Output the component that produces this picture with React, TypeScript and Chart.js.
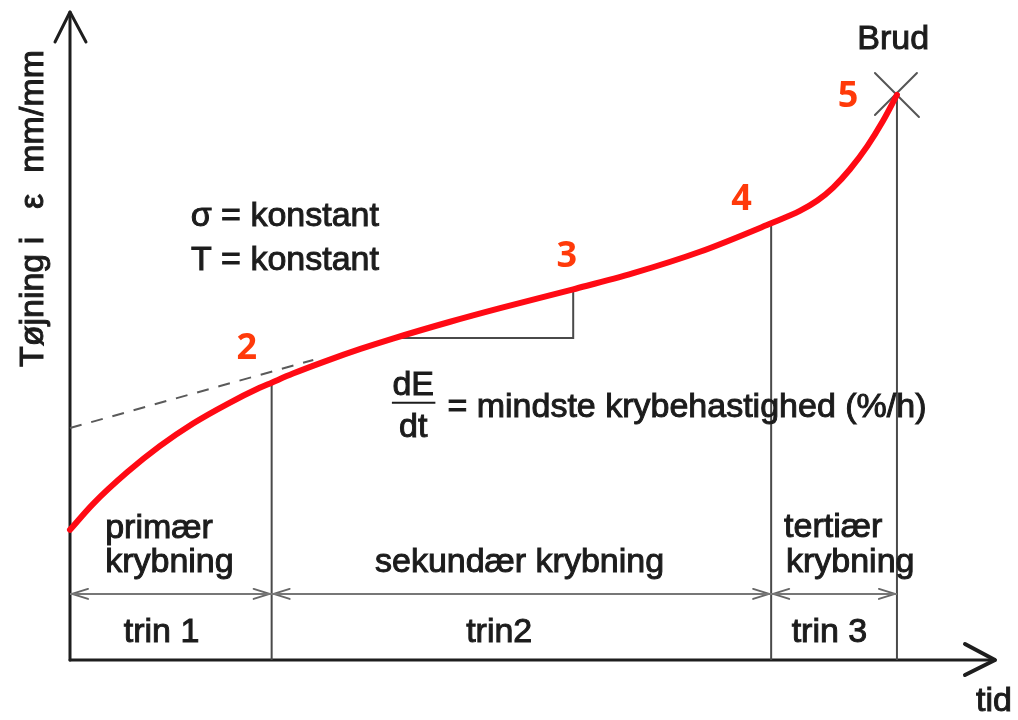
import { useEffect, useRef } from "react";
import { Chart, registerables } from "chart.js";

Chart.register(...registerables);

// Creep curve (time in arbitrary units 0-100, strain in arbitrary units 0-100)
const curveTime = [0, 2.5, 6.2, 9.7, 13.3, 17.0, 20.5, 21.8, 24.1, 27.8, 31.4, 34.9, 41.1, 46.5, 54.4, 60.9, 68.1, 75.8, 78.9, 80.8, 82.5, 84.3, 86.2, 87.9, 89.4];
const curveStrain = [20.1, 24.1, 29.0, 33.0, 36.5, 39.5, 42.0, 42.8, 44.2, 46.2, 48.0, 49.6, 52.2, 54.3, 57.2, 59.7, 63.0, 67.4, 69.3, 70.9, 72.9, 75.7, 79.3, 83.2, 87.2];

// Stage boundaries (end of trin 1, trin 2, trin 3 = rupture)
const stageTime = [21.8, 75.8, 89.4];
const stageStrain = [42.8, 67.4, 87.2];

// Extrapolated secondary (tangent) line
const tangentTime = [0, 26.3];
const tangentStrain = [35.8, 46.3];

// Slope triangle dE/dt
const triangleTime = [35.5, 54.4, 54.4];
const triangleStrain = [49.7, 49.7, 57.2];

// Dimension line with arrows between stages
const dimensionTime = [0, 21.8, 75.8, 89.4];
const dimensionLevel = 10.2;

// Axis extents
const timeMax = 100;
const strainMax = 100;

// Text labels
const stageLabels = ["trin 1", "trin2", "trin 3"];
const stageLabelTime = [9.9, 46.4, 82.1];
const pointNumbers = ["2", "3", "4", "5"];
const pointNumberTime = [19.1, 53.7, 72.6, 84.1];
const pointNumberStrain = [48.1, 62.2, 71.1, 86.9];

const TEXT_FONT = '34px "Liberation Sans", Arial, sans-serif';
const TEXT_COLOR = "#1c1c1c";
const LINE_GREY = "#4a4a4a";

function pts(xs: number[], ys: number[]) {
  return xs.map((x, i) => ({ x, y: ys[i] }));
}

export default function App() {
  const ref = useRef<HTMLCanvasElement | null>(null);

  useEffect(() => {
    if (!ref.current) return;

    const overlay = {
      id: "overlay",
      beforeDatasetsDraw(chart: any) {
        const { ctx, chartArea: a, scales } = chart;
        const X = (v: number) => scales.x.getPixelForValue(v);
        const Y = (v: number) => scales.y.getPixelForValue(v);
        ctx.save();
        ctx.lineCap = "round";
        ctx.lineJoin = "round";
        // axes
        ctx.strokeStyle = "#1e1e1e";
        ctx.lineWidth = 3;
        const x0 = X(0);
        const y0 = Y(0);
        ctx.beginPath();
        ctx.moveTo(x0, y0);
        ctx.lineTo(x0, a.top);
        ctx.stroke();
        ctx.beginPath();
        ctx.moveTo(x0 - 15, a.top + 30);
        ctx.lineTo(x0, a.top);
        ctx.lineTo(x0 + 16, a.top + 30);
        ctx.stroke();
        ctx.beginPath();
        ctx.moveTo(x0, y0);
        ctx.lineTo(a.right, y0);
        ctx.stroke();
        ctx.lineWidth = 4;
        ctx.beginPath();
        ctx.moveTo(a.right - 30, y0 - 16);
        ctx.lineTo(a.right, y0);
        ctx.lineTo(a.right - 30, y0 + 15);
        ctx.stroke();

        // dimension arrowheads
        ctx.strokeStyle = "#666";
        ctx.lineWidth = 2;
        const dy = Y(dimensionLevel);
        const head = (px: number, dir: number) => {
          ctx.beginPath();
          ctx.moveTo(px - dir * 16, dy - 5);
          ctx.lineTo(px, dy);
          ctx.lineTo(px - dir * 16, dy + 5);
          ctx.stroke();
        };
        dimensionTime.forEach((t, i) => {
          const px = X(t);
          if (i > 0) head(px - 2, 1);
          if (i < dimensionTime.length - 1) head(px + 2, -1);
        });

        // rupture cross
        const bx = X(stageTime[2]);
        const by = Y(stageStrain[2]);
        ctx.strokeStyle = "#555";
        ctx.lineWidth = 2;
        ctx.beginPath();
        ctx.moveTo(bx - 22, by - 22);
        ctx.lineTo(bx + 22, by + 22);
        ctx.moveTo(bx + 20, by - 22);
        ctx.lineTo(bx - 22, by + 20);
        ctx.stroke();
        ctx.restore();
      },
      afterDatasetsDraw(chart: any) {
        const { ctx, scales } = chart;
        const X = (v: number) => scales.x.getPixelForValue(v);
        const Y = (v: number) => scales.y.getPixelForValue(v);
        ctx.save();
        ctx.font = TEXT_FONT;
        ctx.fillStyle = TEXT_COLOR;
        ctx.strokeStyle = TEXT_COLOR;
        ctx.lineWidth = 1;
        ctx.textBaseline = "middle";
        const txt = (s: string, x: number, y: number, align: CanvasTextAlign) => {
          ctx.textAlign = align;
          ctx.fillText(s, X(x), Y(y));
          ctx.strokeText(s, X(x), Y(y));
        };
        txt("σ = konstant", 33.4, 68.4, "right");
        txt("T = konstant", 33.4, 61.7, "right");
        txt("primær", 3.8, 20.2, "left");
        txt("krybning", 3.8, 15.0, "left");
        txt("sekundær krybning", 48.6, 15.0, "center");
        txt("tertiær", 77.2, 20.4, "left");
        txt("krybning", 77.4, 15.0, "left");
        stageLabels.forEach((s, i) => txt(s, stageLabelTime[i], 4.3, "center"));
        txt("Brud", 89.0, 95.8, "center");
        txt("tid", 99.9, -6.5, "center");
        txt("dE", 37.1, 42.4, "center");
        txt("dt", 37.1, 35.8, "center");
        txt("= mindste krybehastighed (%/h)", 40.8, 39.0, "left");
        // fraction bar
        ctx.lineWidth = 2;
        ctx.beginPath();
        ctx.moveTo(X(34.8), Y(39.7));
        ctx.lineTo(X(39.5), Y(39.7));
        ctx.stroke();

        // y-axis title (rotated)
        ctx.lineWidth = 1;
        ctx.save();
        ctx.translate(X(0) - 27, 0);
        ctx.rotate(-Math.PI / 2);
        ctx.textAlign = "left";
        ctx.textBaseline = "alphabetic";
        const parts: [string, number][] = [
          ["Tøjning i", 45.2],
          ["ε", 69.6],
          ["mm/mm", 75.2],
        ];
        parts.forEach(([s, v]) => {
          ctx.fillText(s, -Y(v), 0);
          ctx.strokeText(s, -Y(v), 0);
        });
        ctx.restore();

        // red point numbers
        ctx.font = 'bold 36px "Open Sans", "Noto Sans", sans-serif';
        ctx.fillStyle = "#ff3a0a";
        ctx.textAlign = "center";
        ctx.textBaseline = "middle";
        pointNumbers.forEach((s, i) => {
          ctx.fillText(s, X(pointNumberTime[i]), Y(pointNumberStrain[i]));
        });
        ctx.restore();
      },
    };

    const verticals = stageTime.map((t, i) => ({
      data: [
        { x: t, y: 0 },
        { x: t, y: stageStrain[i] },
      ],
      borderColor: LINE_GREY,
      borderWidth: 2,
      pointRadius: 0,
      order: 3,
    }));

    const chart = new Chart(ref.current, {
      type: "line",
      data: {
        datasets: [
          {
            data: pts(curveTime, curveStrain),
            borderColor: "#ff0a14",
            borderWidth: 6,
            pointRadius: 0,
            cubicInterpolationMode: "monotone",
            borderCapStyle: "round",
            order: 0,
          } as any,
          {
            data: pts(tangentTime, tangentStrain),
            borderColor: "#5a5a5a",
            borderWidth: 2,
            borderDash: [12, 10],
            pointRadius: 0,
            order: 2,
          },
          {
            data: pts(triangleTime, triangleStrain),
            borderColor: LINE_GREY,
            borderWidth: 2,
            pointRadius: 0,
            order: 2,
          },
          {
            data: dimensionTime
              .filter((_, i) => i === 0 || i === dimensionTime.length - 1)
              .map((t) => ({ x: t, y: dimensionLevel })),
            borderColor: "#777",
            borderWidth: 2,
            pointRadius: 0,
            order: 2,
          },
          ...verticals,
        ],
      },
      options: {
        responsive: false,
        animation: false,
        clip: false as any,
        layout: { padding: { left: 70, right: 23, top: 12, bottom: 60 } },
        plugins: {
          legend: { display: false },
          tooltip: { enabled: false },
        },
        scales: {
          x: { type: "linear", min: 0, max: timeMax, display: false },
          y: { type: "linear", min: 0, max: strainMax, display: false },
        },
      },
      plugins: [overlay],
    });

    return () => chart.destroy();
  }, []);

  return (
    <div style={{ position: "fixed", left: 0, top: 0, width: 1018, height: 720, background: "#fff" }}>
      <canvas ref={ref} width={1018} height={720} style={{ display: "block" }} />
    </div>
  );
}
